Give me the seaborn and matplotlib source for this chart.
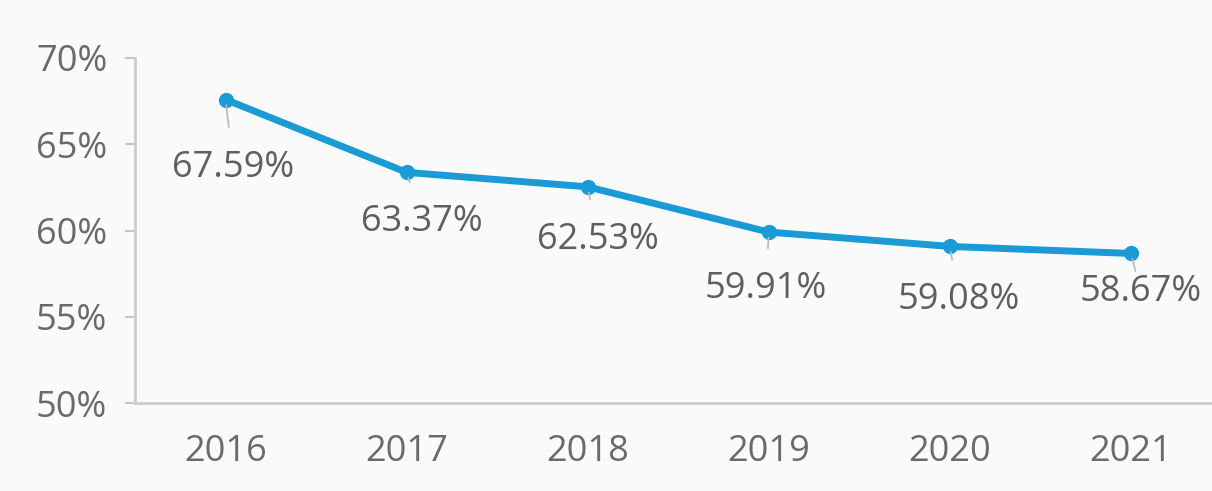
import matplotlib
matplotlib.use("Agg")
import matplotlib.pyplot as plt
import seaborn as sns
import pandas as pd

years = ["2016", "2017", "2018", "2019", "2020", "2021"]
rates = [67.59, 63.37, 62.53, 59.91, 59.08, 58.67]
label_offsets = [(8, -68), (15, -50), (10, -53), (-3, -57), (9, -54), (10, -39)]

sns.set_style("white")
plt.rcParams["font.family"] = ["Open Sans", "DejaVu Sans"]

df = pd.DataFrame({"year": years, "rate": rates})
df["x"] = range(len(years))

fig = plt.figure(figsize=(12.12, 4.91), dpi=100, facecolor="#fafafa")
ax = fig.add_axes([0.1114, 0.179, 0.889, 0.703])
ax.set_facecolor("#fafafa")

sns.lineplot(data=df, x="x", y="rate", ax=ax, color="#1a9bd5", linewidth=5,
             marker="o", markersize=11, markeredgewidth=0)

for xi, val, (dx, dy) in zip(df["x"], rates, label_offsets):
    ax.annotate(f"{val:.2f}%", xy=(xi, val), xytext=(dx * 0.72, dy * 0.72),
                textcoords="offset points", ha="center", va="center",
                fontsize=26, color="#5f5f5f",
                arrowprops=dict(arrowstyle="-", color="#b8b8b8", lw=1.2,
                                shrinkA=14, shrinkB=4))

ax.set_xlim(-0.5, 5.45)
ax.set_ylim(50, 70)
ax.set_yticks([50, 55, 60, 65, 70])
ax.set_yticklabels([f"{v}%" for v in [50, 55, 60, 65, 70]])
ax.set_xticks(df["x"])
ax.set_xticklabels(years)
ax.tick_params(axis="y", left=True, length=7, width=1.5, color="#c8c8c8",
               labelsize=26, labelcolor="#6a6a6a", pad=13)
ax.tick_params(axis="x", length=0, labelsize=26, labelcolor="#6a6a6a", pad=22)
ax.set_xlabel("")
ax.set_ylabel("")
for side in ["top", "right"]:
    ax.spines[side].set_visible(False)
for side in ["left", "bottom"]:
    ax.spines[side].set_color("#cccccc")
    ax.spines[side].set_linewidth(2)

fig.savefig("out.png", dpi=100, facecolor=fig.get_facecolor())
